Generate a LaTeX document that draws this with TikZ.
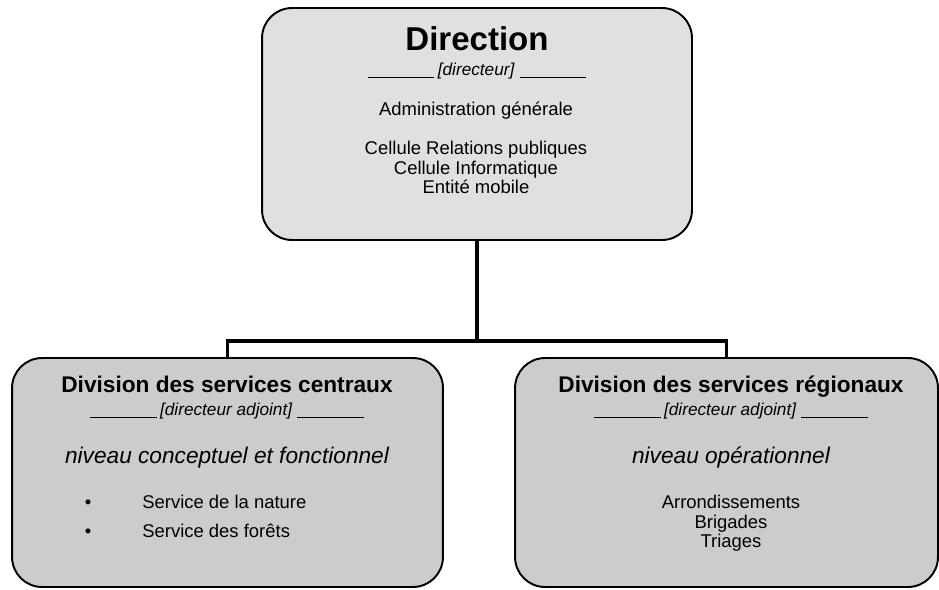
\documentclass[tikz,border=0pt]{standalone}
\usepackage{fontspec}
\setmainfont{Liberation Sans}
\usetikzlibrary{positioning}
\definecolor{topfill}{gray}{0.88}
\definecolor{boxfill}{gray}{0.80}
\begin{document}
\begin{tikzpicture} [
    x=0.02cm, y=-0.02cm,            % one unit per pixel of the page
    ]
% -------------------------------------------------
\tikzset{
  base/.style={draw, line width=1.1pt, rounded corners=0.6cm, inner sep=0pt},
  rect/.style={base, rectangle, minimum height=4.58cm},
  line/.style={draw, line width=2.2pt},
  txt/.style={anchor=base, inner sep=0pt, font=\fontsize{10.5}{11.5}\selectfont},
  head/.style={txt, font=\fontsize{18.8}{20}\selectfont\bfseries},
  ttl/.style={txt, font=\fontsize{12.9}{14}\selectfont\bfseries},
  role/.style={txt, font=\fontsize{9.8}{11}\selectfont\itshape},
  lvl/.style={txt, font=\fontsize{12.9}{14}\selectfont\itshape}
}
\newcommand{\seg}{\rule[-1.6pt]{38pt}{0.7pt}}

    \useasboundingbox (0,0) rectangle (939,589);

    \node [rect, fill=topfill, minimum width=8.6cm, minimum height=4.64cm] (dir) at (477,124) {};   % direction
    \node [rect, fill=boxfill, minimum width=8.62cm] (dsc) at (227.5,472.5) {};                     % services centraux
    \node [rect, fill=boxfill, minimum width=8.46cm] (dsr) at (726.5,472.5) {};                     % services regionaux

    \node [head] (dirT) at (477,50) {Direction};
    \node [role] (dirR) at (477,75) {\seg\kern2pt[directeur]\kern3pt\seg};
    \node [txt] (adm) at (476,115) {Administration générale};
    \node [txt] (crp) at (476,154) {Cellule Relations publiques};
    \node [txt] (cin) at (476,174) {Cellule Informatique};
    \node [txt] (emo) at (476,193) {Entité mobile};

    \node [ttl] (dscT) at (227,392) {Division des services centraux};
    \node [role] (dscR) at (227,415) {\seg\kern2pt[directeur adjoint]\kern3pt\seg};
    \node [lvl] (dscL) at (227,463) {niveau conceptuel et fonctionnel};
    \node [txt] (bul1) at (88,508) {\textbullet};
    \node [txt, anchor=base west] (snat) at (142,508) {Service de la nature};
    \node [txt] (bul2) at (88,537) {\textbullet};
    \node [txt, anchor=base west] (sfor) at (142,537) {Service des forêts};

    \node [ttl] (dsrT) at (731,392) {Division des services régionaux};
    \node [role] (dsrR) at (731,415) {\seg\kern2pt[directeur adjoint]\kern3pt\seg};
    \node [lvl] (dsrL) at (731,463) {niveau opérationnel};
    \node [txt] (arr) at (731,508) {Arrondissements};
    \node [txt] (brg) at (731,528) {Brigades};
    \node [txt] (tri) at (731,547) {Triages};

    \coordinate (jn) at (477,341);

    \path [line] (dir.south) -- (jn);
    \path [line] (jn) -| (dsc.north);
    \path [line] (jn) -| (dsr.north);

\end{tikzpicture}
\end{document}
